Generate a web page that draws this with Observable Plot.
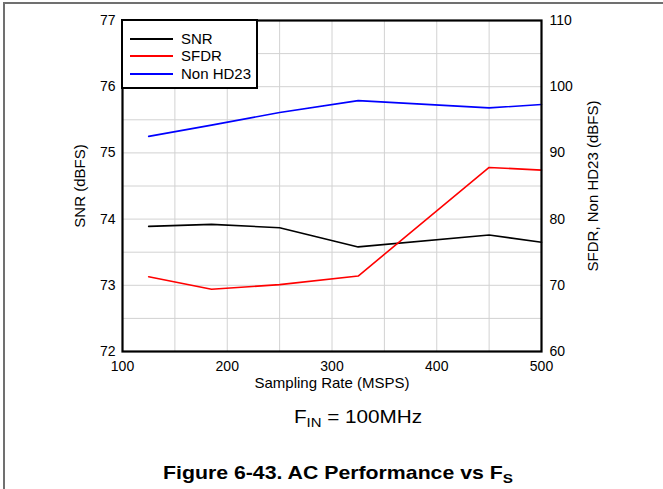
<!DOCTYPE html>
<html>
<head>
<meta charset="utf-8">
<script src="https://cdn.jsdelivr.net/npm/d3@7"></script>
<script src="https://cdn.jsdelivr.net/npm/@observablehq/plot@0.6"></script>
<style>
  html, body { margin: 0; padding: 0; background: #fff; }
  #wrap { position: relative; width: 663px; height: 489px; overflow: hidden; font-family: "Liberation Sans", Arial, sans-serif; color: #000; }
  #chart svg { display: block; }
  #border { position: absolute; left: 3px; top: 2px; right: -10px; bottom: -10px; border-top: 2px solid #707070; border-left: 2px solid #707070; pointer-events: none; }
  #legend { position: absolute; left: 121px; top: 19px; width: 133px; height: 66px; border: 2px solid #000; background: #fff; }
  .row { position: absolute; left: 0; height: 17px; font-size: 15px; line-height: 17px; }
  .row .sw { position: absolute; left: 7px; top: 8px; width: 43px; height: 0; border-top: 2px solid; }
  .row .lb { position: absolute; left: 58px; top: 0; white-space: nowrap; }
  #sub { position: absolute; left: 358px; top: 407.5px; font-size: 18px; line-height: 18px; white-space: nowrap; transform: translateX(-50%) scaleX(1.15); transform-origin: 50% 50%; }
  #cap { position: absolute; left: 338px; top: 463px; font-size: 19px; line-height: 19px; font-weight: bold; white-space: nowrap; transform: translateX(-50%) scaleX(1.12); transform-origin: 50% 50%; }
  sub { font-size: 0.72em; vertical-align: -0.3em; line-height: 0; }
</style>
</head>
<body>
<div id="wrap">
  <div id="chart"></div>
  <div id="legend"></div>
  <div id="sub"></div>
  <div id="cap"></div>
  <div id="border"></div>
</div>
<script>
// ---- data ----
const rates = [125, 185, 250, 325, 450, 500];            // Sampling Rate (MSPS)
const snr = [73.89, 73.92, 73.87, 73.58, 73.76, 73.65];  // SNR (dBFS), left axis
const sfdr = [71.3, 69.4, 70.1, 71.4, 87.8, 87.4];       // SFDR (dBFS), right axis
const nonHD23 = [92.5, 94.2, 96.1, 97.9, 96.8, 97.3];    // Non HD23 (dBFS), right axis
const xTicks = [100, 200, 300, 400, 500];
const leftTicks = [72, 73, 74, 75, 76, 77];
const rightTicks = [60, 70, 80, 90, 100, 110];
const seriesNames = ["SNR", "SFDR", "Non HD23"];
const seriesColors = ["#000000", "#ff0000", "#0000ff"];
const subtitleText = "F<sub>IN</sub> = 100MHz";
const captionText = "Figure 6-43. AC Performance vs F<sub>S</sub>";

// right axis (60..110) mapped onto left axis (72..77)
const toLeft = v => leftTicks[0] + (v - rightTicks[0]) * (leftTicks[leftTicks.length-1] - leftTicks[0]) / (rightTicks[rightTicks.length-1] - rightTicks[0]);

const rows = [];
rates.forEach((r, i) => {
  rows.push({series: "SNR", x: r, y: snr[i]});
  rows.push({series: "SFDR", x: r, y: toLeft(sfdr[i])});
  rows.push({series: "Non HD23", x: r, y: toLeft(nonHD23[i])});
});

const gridXs = d3.range(150, 500, 50);
const gridYs = d3.range(72.5, 77, 0.5);

const chart = Plot.plot({
  width: 663,
  height: 395,
  marginLeft: 122,
  marginRight: 122,
  marginTop: 20,
  marginBottom: 44,
  style: {fontFamily: "'Liberation Sans', Arial, sans-serif", fontSize: "14px", color: "#000", background: "transparent"},
  x: {domain: [100, 500], label: null},
  y: {domain: [72, 77], label: null},
  color: {domain: seriesNames, range: seriesColors},
  marks: [
    Plot.gridX(gridXs, {stroke: "#d2d2d2", strokeOpacity: 1, strokeWidth: 1}),
    Plot.gridY(gridYs, {stroke: "#d2d2d2", strokeOpacity: 1, strokeWidth: 1}),
    Plot.line(rows, {x: "x", y: "y", z: "series", stroke: "series", strokeWidth: 1.6}),
    Plot.frame({stroke: "#000", strokeWidth: 2.2}),
    Plot.axisX(xTicks, {tickSize: 0, tickPadding: 10, fontSize: 14, label: null, tickFormat: d => String(d)}),
    Plot.axisY(leftTicks, {anchor: "left", tickSize: 0, tickPadding: 7, fontSize: 14, label: null, tickFormat: d => String(d)}),
    Plot.axisY(rightTicks.map(toLeft), {anchor: "right", tickSize: 0, tickPadding: 8, fontSize: 14, label: null,
      tickFormat: (d, i) => String(rightTicks[i])}),
    Plot.text(["SNR (dBFS)"], {frameAnchor: "left", dx: -42, rotate: -90, fontSize: 15, textAnchor: "middle"}),
    Plot.text(["SFDR, Non HD23 (dBFS)"], {frameAnchor: "right", dx: 52, rotate: -90, fontSize: 15, textAnchor: "middle"}),
    Plot.text(["Sampling Rate (MSPS)"], {frameAnchor: "bottom", dy: 32, fontSize: 15, lineAnchor: "middle"})
  ]
});
document.getElementById("chart").appendChild(chart);

const legend = document.getElementById("legend");
seriesNames.forEach((name, i) => {
  const row = document.createElement("div");
  row.className = "row";
  row.style.top = (9 + i * 17.3) + "px";
  row.innerHTML = `<span class="sw" style="border-color:${seriesColors[i]}"></span><span class="lb">${name}</span>`;
  legend.appendChild(row);
});
document.getElementById("sub").innerHTML = subtitleText;
document.getElementById("cap").innerHTML = captionText;
</script>
</body>
</html>
